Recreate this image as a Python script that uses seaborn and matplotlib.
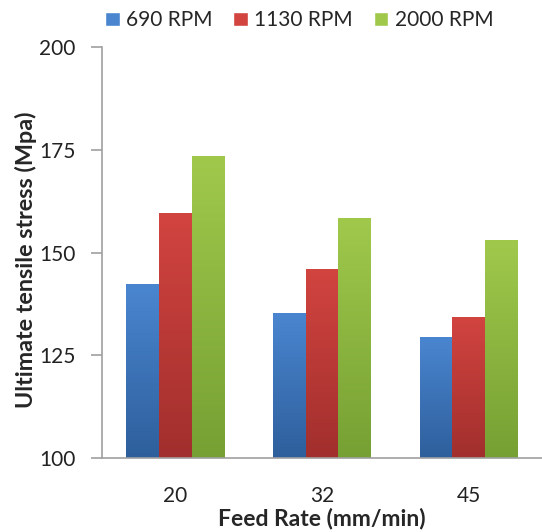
import numpy as np
import pandas as pd
import matplotlib
matplotlib.use("Agg")
import matplotlib.pyplot as plt
from matplotlib.colors import LinearSegmentedColormap
from matplotlib.patches import Patch
import seaborn as sns

feed_rates = ["20", "32", "45"]
speeds = ["690 RPM", "1130 RPM", "2000 RPM"]
uts_690 = [142.3, 135.4, 129.5]
uts_1130 = [159.5, 146.1, 134.4]
uts_2000 = [173.5, 158.5, 153.1]

df = pd.DataFrame({
    "feed": feed_rates * 3,
    "speed": [s for s in speeds for _ in feed_rates],
    "uts": uts_690 + uts_1130 + uts_2000,
})

# light top / dark bottom, excel style
top_cols = {"690 RPM": "#4a86d0", "1130 RPM": "#d24440", "2000 RPM": "#a0c94c"}
bot_cols = {"690 RPM": "#2e5f9c", "1130 RPM": "#a12f2d", "2000 RPM": "#76a033"}

sns.set_style("white")
plt.rcParams['font.family'] = ['Lato', 'DejaVu Sans']

fig = plt.figure(figsize=(5.42, 5.32), dpi=100)
ax = fig.add_axes([0.188, 0.139, 0.812, 0.7727])

sns.barplot(data=df, x="feed", y="uts", hue="speed", order=feed_rates,
            hue_order=speeds, palette=top_cols, width=0.665, gap=0,
            linewidth=0, ax=ax, legend=False)

ax.set_ylim(100, 200)
ax.set_xlim(-0.5, 2.5)

# overlay vertical gradients on each bar
for i, sp in enumerate(speeds):
    cmap = LinearSegmentedColormap.from_list(sp, [bot_cols[sp], top_cols[sp]])
    grad = np.linspace(0, 1, 256).reshape(-1, 1)
    for bar in ax.containers[i]:
        x0, y0 = bar.get_x(), bar.get_y()
        w, h = bar.get_width(), bar.get_height()
        im = ax.imshow(grad, extent=[x0, x0 + w, 100, y0 + h], origin="lower",
                       aspect="auto", cmap=cmap, zorder=bar.get_zorder() + 0.1)
        im.set_clip_path(bar)

ax.set_ylim(100, 200)
ax.set_xlim(-0.5, 2.5)
ax.set_yticks([100, 125, 150, 175, 200])

for s in ["top", "right"]:
    ax.spines[s].set_visible(False)
for s in ["left", "bottom"]:
    ax.spines[s].set_color("#a0a0a0")
    ax.spines[s].set_linewidth(1.2)

ax.tick_params(axis="y", direction="out", length=8, width=1.2, color="#a0a0a0",
               pad=11, labelsize=15, labelcolor="#222222", left=True)
ax.tick_params(axis="x", length=0, pad=20, labelsize=15, labelcolor="#222222")

ax.set_xlabel("Feed Rate (mm/min)", fontsize=16.5, fontweight="bold")
ax.xaxis.set_label_coords(0.5, -0.121)
ax.set_ylabel("Ultimate tensile stress (Mpa)", fontsize=16.8, fontweight="bold")
ax.yaxis.set_label_coords(-0.148, 0.482)

handles = [Patch(facecolor=top_cols[s], label=s) for s in speeds]
fig.legend(handles=handles, ncol=3, loc="center", bbox_to_anchor=(0.552, 0.962),
           frameon=False, fontsize=15, handlelength=0.7, handleheight=0.7,
           handletextpad=0.3, columnspacing=1.0)

fig.savefig("out.png", dpi=100)
